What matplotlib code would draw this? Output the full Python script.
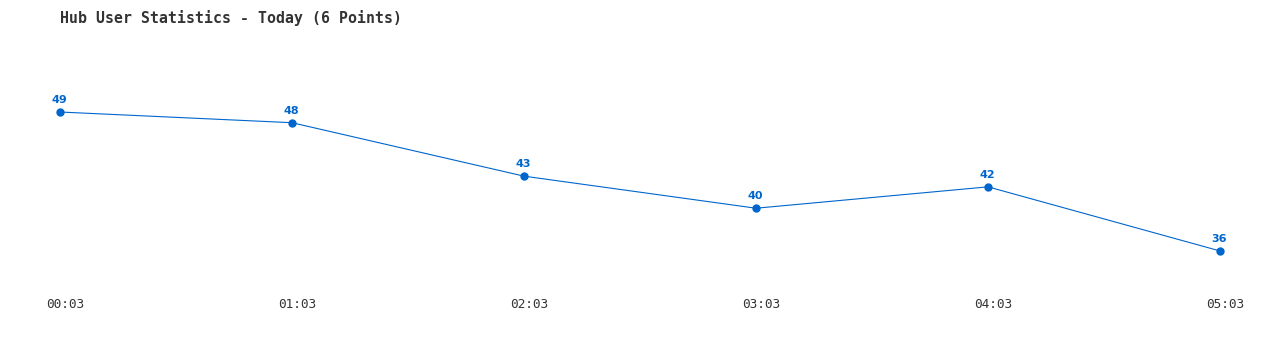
import matplotlib
matplotlib.use("Agg")
import matplotlib.pyplot as plt
import matplotlib.transforms as mtransforms

# data
times = ["00:03", "01:03", "02:03", "03:03", "04:03", "05:03"]
users = [49, 48, 43, 40, 42, 36]

LINE_COLOR = "#0066cc"
TEXT_COLOR = "#333333"

fig = plt.figure(figsize=(12.8, 3.5), dpi=100)
fig.patch.set_facecolor("white")

# plot area: x from px 60 to 1220, y from px 90 to 270
ax = fig.add_axes([60 / 1280, 80 / 350, 1160 / 1280, 180 / 350])
x = list(range(len(users)))
ax.plot(x, users, color=LINE_COLOR, linewidth=0.8, marker="o",
        markersize=5, zorder=3, clip_on=False)

for xi, v in zip(x, users):
    ax.annotate(str(v), (xi, v), xytext=(-0.5, 5), textcoords="offset points",
                ha="center", va="bottom", fontsize=8, fontweight="bold",
                color=LINE_COLOR, family="DejaVu Sans")

ax.set_xlim(0, len(users) - 1)
ax.set_ylim(min(users) - 1.78, max(users) + 2.06)
ax.set_xticks(x)
ax.set_xticklabels(times, family="DejaVu Sans Mono", fontsize=9.2,
                   color=TEXT_COLOR)
ax.tick_params(axis="x", length=0, pad=20)
# labels sit a few px right of the points in the original
shift = mtransforms.ScaledTranslation(5 / 100, 0, fig.dpi_scale_trans)
for lbl in ax.get_xticklabels():
    lbl.set_transform(lbl.get_transform() + shift)
ax.set_yticks([])
for s in ax.spines.values():
    s.set_visible(False)

fig.text(60 / 1280, 1 - 18 / 350, "Hub User Statistics - Today (6 Points)",
         family="DejaVu Sans Mono", fontsize=10.7, fontweight="bold",
         color=TEXT_COLOR, ha="left", va="center")

fig.savefig("out.png", dpi=100)
